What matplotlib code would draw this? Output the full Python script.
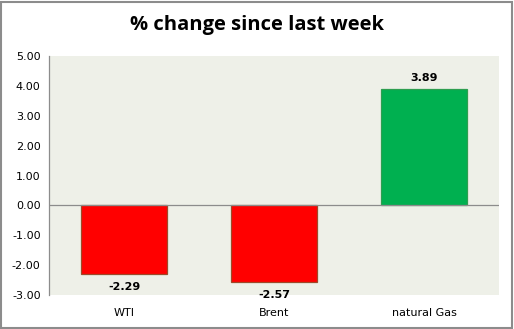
import matplotlib
matplotlib.use("Agg")
import matplotlib.pyplot as plt
from matplotlib.patches import Rectangle

categories = ["WTI", "Brent", "natural Gas"]
values = [-2.29, -2.57, 3.89]
yticks = [5.0, 4.0, 3.0, 2.0, 1.0, 0.0, -1.0, -2.0, -3.0]

colors = ["#FF0000" if v < 0 else "#00B050" for v in values]
edges = ["#9C4A2A" if v < 0 else "#2E9E50" for v in values]

fig = plt.figure(figsize=(5.14, 3.29), dpi=100)
fig.patch.set_facecolor("white")
ax = fig.add_axes([0.0953, 0.1033, 0.8757, 0.7265])
ax.set_facecolor("#EEF0E8")

x = list(range(len(categories)))
ax.bar(x, values, width=0.573, color=colors, edgecolor=edges, linewidth=0.9, zorder=3)
ax.axhline(0, color="#8C8C8C", linewidth=0.9, zorder=4)

ax.set_xlim(-0.5, len(categories) - 0.5)
ax.set_ylim(-3, 5)
ax.set_yticks(yticks)
ax.set_yticklabels([f"{t:.2f}" for t in yticks], fontsize=8, family="DejaVu Sans")
ax.set_xticks(x)
ax.set_xticklabels(categories, fontsize=8, family="DejaVu Sans")
ax.tick_params(axis="both", length=0, pad=6)
ax.tick_params(axis="x", pad=9)

for s in ["top", "right", "bottom"]:
    ax.spines[s].set_visible(False)
ax.spines["left"].set_color("#8C8C8C")
ax.spines["left"].set_linewidth(0.9)

for xi, v in zip(x, values):
    off = 8 if v > 0 else -9.5
    ax.annotate(f"{v:.2f}", (xi, v), xytext=(0, off), textcoords="offset points",
                ha="center", va="center", fontsize=8, fontweight="bold",
                family="DejaVu Sans", zorder=5, annotation_clip=False)

fig.suptitle("% change since last week", x=0.5, y=0.955, fontsize=14.5,
             fontweight="bold", family="Open Sans")

fig.add_artist(Rectangle((0.002, 0.003), 0.994, 0.992, transform=fig.transFigure,
                         fill=False, edgecolor="#8C8C8C", linewidth=1.5))

fig.savefig("out.png", dpi=100)
